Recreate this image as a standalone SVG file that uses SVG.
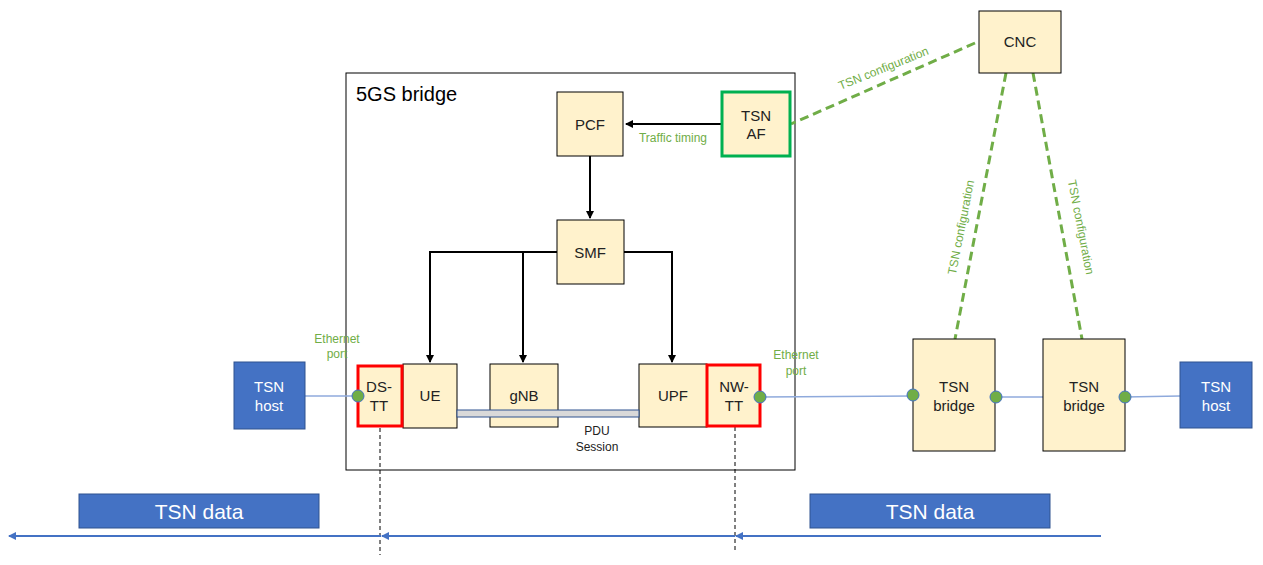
<svg xmlns="http://www.w3.org/2000/svg" width="1263" height="565" viewBox="0 0 1263 565">
<style>
text{font-family:"Liberation Sans",Arial,sans-serif;text-anchor:middle}
.n{fill:#fff2cc;stroke:#000;stroke-width:1}
.t{font-size:15px;fill:#222}
.host{fill:#4472c4;stroke:#2f528f}
.ht{font-size:15px;fill:#fff}
.g{font-size:12px;fill:#70ad47}
.port{fill:#70ad47;stroke:#4472c4;stroke-width:1}
.ar{stroke:#000;stroke-width:2;fill:none;marker-end:url(#a)}
.gd{stroke:#70ad47;stroke-width:3;stroke-dasharray:9,5;fill:none}
</style>
<defs>
<marker id="a" markerWidth="8" markerHeight="8" refX="7" refY="4" orient="auto" markerUnits="userSpaceOnUse"><path d="M0,0L8,4L0,8z" fill="#000"/></marker>
<marker id="b" markerWidth="8" markerHeight="8" refX="7" refY="4" orient="auto" markerUnits="userSpaceOnUse"><path d="M0,0L8,4L0,8z" fill="#4472c4"/></marker>
</defs>
<g id="bridge5gs"><rect x="346" y="73" width="449" height="397" fill="#fff" stroke="#000"/><text x="356" y="101" font-size="20" style="text-anchor:start" fill="#000">5GS bridge</text></g>
<g id="connectors">
<line x1="722" y1="124" x2="626" y2="124" class="ar"/>
<line x1="590" y1="156" x2="590" y2="218" class="ar"/>
<polyline points="557,252 430,252 430,362" class="ar"/>
<line x1="523" y1="252" x2="523" y2="362" class="ar"/>
<polyline points="624,252 672,252 672,362" class="ar"/>
<line x1="305" y1="396" x2="358" y2="396" stroke="#8faadc" stroke-width="1.5"/>
<line x1="760" y1="397" x2="913" y2="396" stroke="#8faadc" stroke-width="1.5"/>
<line x1="996" y1="397" x2="1043" y2="397" stroke="#8faadc" stroke-width="1.5"/>
<line x1="1125" y1="397" x2="1180" y2="396" stroke="#8faadc" stroke-width="1.5"/>
<line x1="975" y1="43" x2="791" y2="124" class="gd"/>
<line x1="1006" y1="73" x2="955" y2="339" class="gd"/>
<line x1="1033" y1="73" x2="1082" y2="339" class="gd"/>
<line x1="380" y1="428" x2="380" y2="555" stroke="#000" stroke-dasharray="4,3"/>
<line x1="735" y1="427" x2="735" y2="553" stroke="#000" stroke-dasharray="4,3"/>
<line x1="1101" y1="536" x2="736" y2="536" stroke="#4472c4" stroke-width="2" marker-end="url(#b)"/>
<line x1="735" y1="536" x2="382" y2="536" stroke="#4472c4" stroke-width="2" marker-end="url(#b)"/>
<line x1="381" y1="536" x2="9" y2="536" stroke="#4472c4" stroke-width="2" marker-end="url(#b)"/>
<text x="673" y="142" class="g">Traffic  timing</text>
<text x="885" y="72" class="g" transform="rotate(-22 885 72)">TSN configuration</text>
<text x="965" y="228" class="g" transform="rotate(-79 965 228)">TSN configuration</text>
<text x="1077" y="228" class="g" transform="rotate(79 1077 228)">TSN configuration</text>
<text x="337" y="343" class="g">Ethernet</text><text x="337" y="358" class="g">port</text>
<text x="796" y="359" class="g">Ethernet</text><text x="796" y="375" class="g">port</text>
<text x="597" y="435" font-size="12" fill="#222">PDU</text><text x="597" y="451" font-size="12" fill="#222">Session</text>
</g>
<g id="pcf"><rect x="557" y="92" width="66" height="64" class="n"/><text x="590" y="130" class="t">PCF</text></g>
<g id="tsnaf"><rect x="722" y="92" width="68" height="64" class="n" style="stroke:#00b050;stroke-width:3"/><text x="756" y="121" class="t">TSN</text><text x="756" y="139" class="t">AF</text></g>
<g id="smf"><rect x="557" y="220" width="67" height="64" class="n"/><text x="590" y="258" class="t">SMF</text></g>
<g id="ue"><rect x="403" y="364" width="54" height="64" class="n"/><text x="430" y="401" class="t">UE</text></g>
<g id="dstt"><rect x="358" y="366" width="44" height="60" class="n" style="stroke:#f00;stroke-width:3"/><text x="379" y="392" class="t">DS-</text><text x="379" y="411" class="t">TT</text></g>
<g id="gnb"><rect x="490" y="364" width="68" height="63" class="n"/><text x="524" y="401" class="t">gNB</text></g>
<g id="upf"><rect x="639" y="364" width="68" height="63" class="n"/><text x="673" y="401" class="t">UPF</text></g>
<g id="nwtt"><rect x="707" y="365" width="53" height="61" class="n" style="stroke:#f00;stroke-width:3"/><text x="734" y="392" class="t">NW-</text><text x="734" y="411" class="t">TT</text></g>
<g id="pdu"><rect x="457" y="410" width="182" height="7" fill="#d9d9d9" stroke="#2f528f" stroke-width="1"/></g>
<g id="hostL"><rect x="234" y="362" width="71" height="67" class="host"/><text x="269" y="392" class="ht">TSN</text><text x="269" y="411" class="ht">host</text></g>
<g id="hostR"><rect x="1180" y="362" width="72" height="66" class="host"/><text x="1216" y="392" class="ht">TSN</text><text x="1216" y="411" class="ht">host</text></g>
<g id="cnc"><rect x="979" y="11" width="82" height="62" class="n"/><text x="1020" y="47" class="t">CNC</text></g>
<g id="tb1"><rect x="913" y="339" width="82" height="112" class="n"/><text x="954" y="392" class="t">TSN</text><text x="954" y="411" class="t">bridge</text></g>
<g id="tb2"><rect x="1043" y="339" width="82" height="112" class="n"/><text x="1084" y="392" class="t">TSN</text><text x="1084" y="411" class="t">bridge</text></g>
<g id="ports">
<circle cx="358" cy="396" r="6" class="port"/><circle cx="760" cy="397" r="6" class="port"/>
<circle cx="913" cy="395" r="6" class="port"/><circle cx="996" cy="397" r="6" class="port"/>
<circle cx="1125" cy="397" r="6" class="port"/>
</g>
<g id="data1"><rect x="79" y="494" width="240" height="34" fill="#4472c4" stroke="#2f528f"/><text x="199" y="519" font-size="21" fill="#fff">TSN data</text></g>
<g id="data2"><rect x="810" y="494" width="240" height="34" fill="#4472c4" stroke="#2f528f"/><text x="930" y="519" font-size="21" fill="#fff">TSN data</text></g>
</svg>
